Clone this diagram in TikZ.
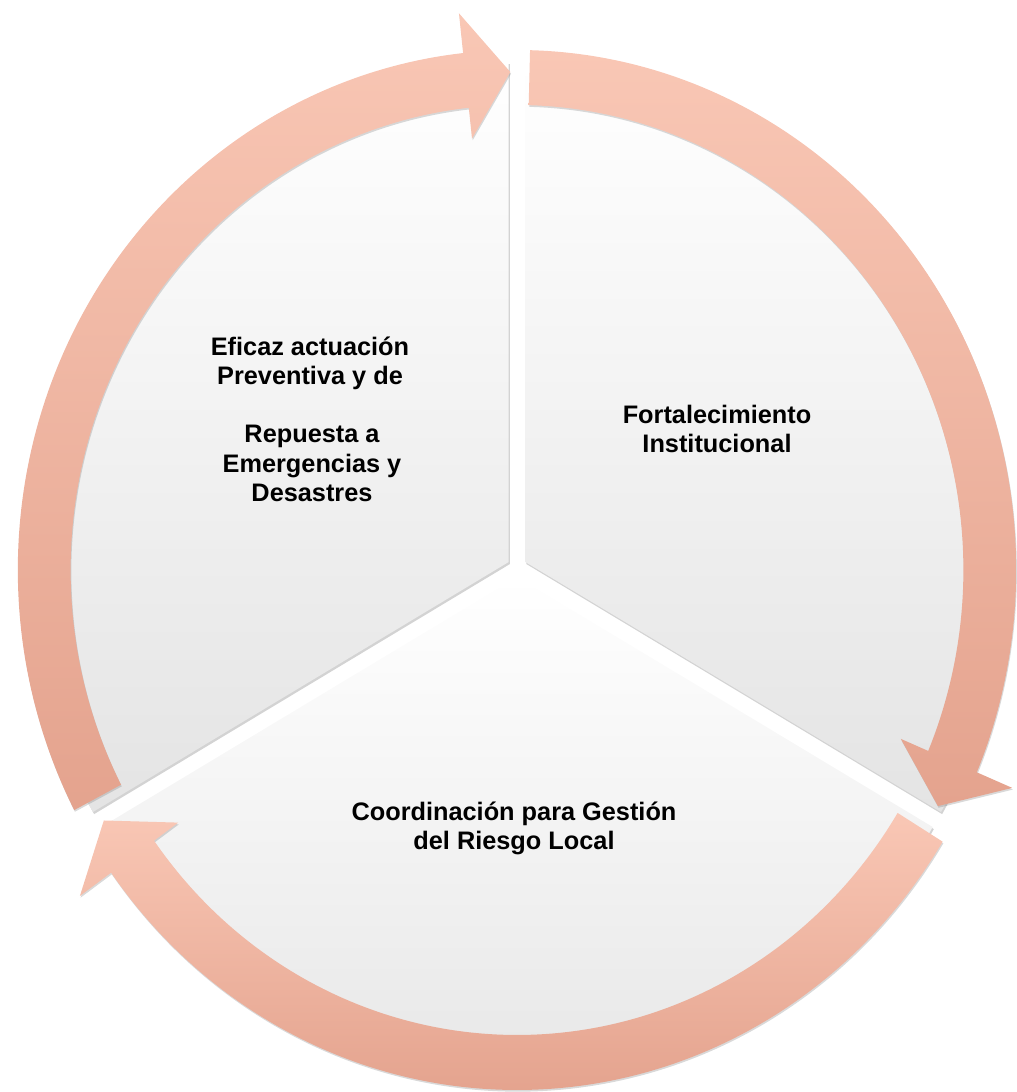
\documentclass[tikz,border=0pt]{standalone}
\usepackage{fontspec}
\setmainfont{Liberation Sans}
\usepackage{tikz}
\usetikzlibrary{shadows}

\definecolor{salmonClaro}{HTML}{F9C7B5}
\definecolor{salmonOscuro}{HTML}{E4A38E}
\definecolor{grisSector}{HTML}{E4E4E4}

\begin{document}
\begin{tikzpicture}[
        x=0.025cm, y=0.025cm,
        font=\fontsize{18pt}{21.3pt}\selectfont\bfseries,
        sector/.style={top color=white, bottom color=grisSector,
            drop shadow={opacity=0.35, shadow xshift=0.8pt, shadow yshift=-1.5pt}},
        flecha/.style={top color=salmonClaro, bottom color=salmonOscuro,
            drop shadow={opacity=0.3, shadow xshift=0.5pt, shadow yshift=-1.2pt}},
        etiqueta/.style={align=center, anchor=base, inner sep=0pt}
    ]
        % --- Marco de la figura ---
        \useasboundingbox (0,0) rectangle (1017,1092);

        % --- Radios del anillo ---
        \def\rSector{500}   % Radio de los sectores
        \def\rExt{520}      % Borde exterior del anillo
        \def\rInt{465}      % Borde interior del anillo
        \def\rPunta{498}    % Radio de la punta
        \def\rPuntaExt{560} % Aleta exterior de la punta
        \def\rPuntaInt{434} % Aleta interior de la punta

        % --- Sectores del circulo (separados del centro) ---
        \begin{scope}[shift={(517,525)}, xscale=0.96]
            \shade[sector] (150:10) -- ++(90:\rSector) arc[start angle=90, end angle=210, radius=\rSector] -- cycle;
            \shade[sector] (30:10) -- ++(-30:\rSector) arc[start angle=-30, end angle=90, radius=\rSector] -- cycle;
            \shade[sector] (270:10) -- ++(210:\rSector) arc[start angle=210, end angle=330, radius=\rSector] -- cycle;
        \end{scope}

        % --- Flechas curvas del anillo ---
        \begin{scope}[shift={(517,522)}, xscale=0.96]
            % Flecha izquierda: sube hasta arriba
            \shade[flecha] (207.5:\rExt) arc[start angle=207.5, end angle=96.2, radius=\rExt]
                -- (96.2:\rPuntaExt) -- (90.8:\rPunta) -- (96.2:\rPuntaInt)
                -- (96.2:\rInt) arc[start angle=96.2, end angle=207.5, radius=\rInt] -- cycle;
            % Flecha derecha: baja por la derecha
            \shade[flecha] (88.5:\rExt) arc[start angle=88.5, end angle=-22.9, radius=\rExt]
                -- (-22.9:\rPuntaExt) -- (-28.3:\rPunta) -- (-22.9:\rPuntaInt)
                -- (-22.9:\rInt) arc[start angle=-22.9, end angle=88.5, radius=\rInt] -- cycle;
            % Flecha inferior: pasa por abajo hacia la izquierda
            \shade[flecha] (-31.5:\rExt) arc[start angle=-31.5, end angle=-144.4, radius=\rExt]
                -- (-144.4:\rPuntaExt) -- (-149.8:\rPunta) -- (-144.4:\rPuntaInt)
                -- (-144.4:\rInt) arc[start angle=-144.4, end angle=-31.5, radius=\rInt] -- cycle;
        \end{scope}

        % --- Textos de cada sector ---
        \node[etiqueta] (eficaz) at (310,707) {Eficaz actuación\\Preventiva y de};
        \node[etiqueta] (repuesta) at (312,590) {Repuesta a\\Emergencias y\\Desastres};
        \node[etiqueta] (fortalecimiento) at (717,639) {Fortalecimiento\\Institucional};
        \node[etiqueta] (coordinacion) at (514,242) {Coordinación para Gestión\\del Riesgo Local};
\end{tikzpicture}
\end{document}
